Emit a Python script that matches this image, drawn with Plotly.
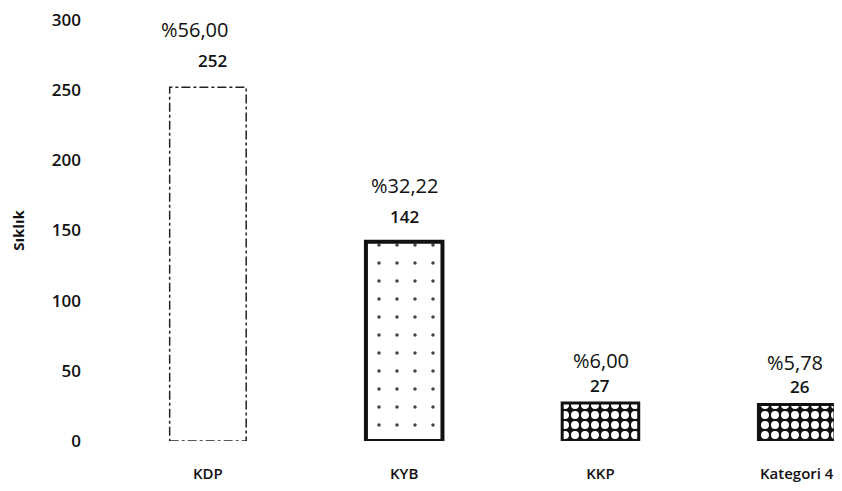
import plotly.graph_objects as go

categories = ["KDP", "KYB", "KKP", "Kategori 4"]
counts = [252, 142, 27, 26]
percents = ["%56,00", "%32,22", "%6,00", "%5,78"]

FONT = "Open Sans"
INK = "#111111"

fig = go.Figure()

# bars: first one plain white (dashed outline added as shape), second white with
# heavy border and light speckles, last two dark "scanned" fills
fig.add_bar(
    x=categories,
    y=counts,
    width=0.39,
    marker=dict(
        color=["white", "white", "#111111", "#111111"],
        line=dict(color=["rgba(0,0,0,0)", INK, INK, INK], width=[0, 4, 3, 3]),
        pattern=dict(
            shape=["", ".", ".", "."],
            fgcolor=[INK, "#333333", "white", "white"],
            fgopacity=1,
            size=[8, 18, 10, 10],
            solidity=[0.1, 0.03, 0.5, 0.5],
        ),
    ),
    showlegend=False,
)

# dashed outline for the first bar
fig.add_shape(
    type="rect", xref="x", yref="y",
    x0=-0.195, x1=0.195, y0=0, y1=counts[0],
    line=dict(color="#222222", width=1.5, dash="dashdot"),
)

# count and percent labels above each bar
count_shift = [27, 25, 18, 18]
pct_shift = [58, 56, 43, 42]
count_dx = [5, 0, 0, 3]
pct_dx = [-13, 0, 1, -2]
for i, cat in enumerate(categories):
    fig.add_annotation(x=cat, y=counts[i], text=str(counts[i]), showarrow=False,
                       yshift=count_shift[i], xshift=count_dx[i],
                       font=dict(family=FONT, size=17, color=INK, weight=600))
    fig.add_annotation(x=cat, y=counts[i], text=percents[i], showarrow=False,
                       yshift=pct_shift[i], xshift=pct_dx[i],
                       font=dict(family=FONT, size=20, color=INK, weight=500))

# page body adds an 8px margin, so the figure is sized to fit inside it
fig.update_layout(
    width=826,
    height=475,
    margin=dict(l=92, r=0, t=6, b=35),
    plot_bgcolor="white",
    paper_bgcolor="white",
    font=dict(family=FONT, color=INK),
)

fig.update_xaxes(
    type="category",
    range=[-0.55, 3.19],
    showgrid=False, showline=False, zeroline=False,
    ticks="", ticklabelstandoff=22,
    ticklabeloverflow="allow",
    tickfont=dict(family=FONT, size=15, weight=600),
)
fig.update_yaxes(
    range=[0, 300],
    dtick=50,
    showgrid=False, showline=False, zeroline=False,
    ticks="", ticklabelstandoff=18,
    ticklabeloverflow="allow",
    tickfont=dict(family=FONT, size=17, weight=600),
    title=dict(text="Sıklık", standoff=26, font=dict(family=FONT, size=15, weight=700)),
)

fig.write_html("out.html")
